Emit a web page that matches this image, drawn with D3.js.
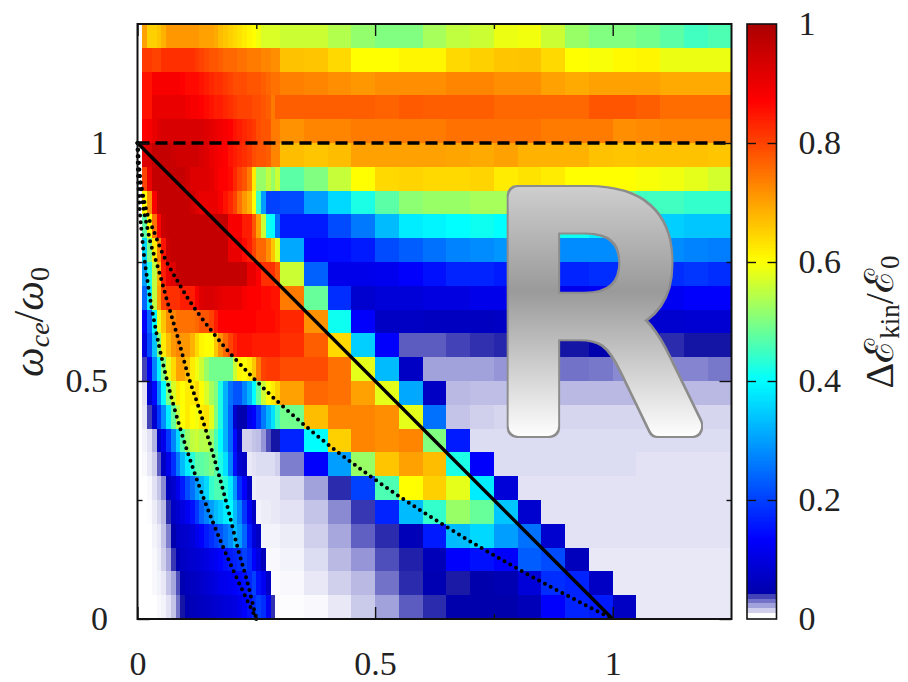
<!DOCTYPE html>
<html>
<head>
<meta charset="utf-8">
<script src="https://cdn.jsdelivr.net/npm/d3@7"></script>
<style>
  html, body { margin: 0; background: #fff; }
  svg { display: block; }
  text { font-family: "Liberation Serif", serif; fill: #222; }
</style>
</head>
<body>
<div id="graph"></div>
<script>
// energy gain in percent, top row (1.2-1.25) first
// x from 0 to 0.3 in steps of 0.01
const fineRows = [
  [0,70,65,65,66,68,71,71,71,71,71,71,71,70,70,70,69,67,66,65,64,63,62,61,60,59,57,57,57,57],
  [0,81,81,80,80,82,82,82,82,82,82,82,81,80,79,78,78,77,76,76,76,75,75,74,74,74,73,73,72,72],
  [0,85,85,88,88,88,88,88,88,87,86,86,86,85,84,83,82,82,81,80,79,79,79,78,78,78,77,76,75,75],
  [0,85,85,90,90,90,90,90,90,90,89,88,88,87,86,85,84,84,83,82,81,80,80,80,79,79,78,77,74,77],
  [0,87,88,90,92,93,93,93,93,93,93,93,93,93,92,91,90,89,88,87,85,84,83,82,81,79,78,78,74,74],
  [0,92,93,96,96,96,96,95,94,94,94,94,94,93,92,90,89,88,87,85,84,83,82,81,79,78,78,77,73,73],
  [0,80,90,96,96,96,96,96,96,96,94,92,92,92,92,91,89,87,87,86,83,80,78,74,62,52,52,55,52,56],
  [0,60,72,88,96,96,96,96,96,96,96,94,92,90,90,90,90,88,85,83,80,75,71,68,60,45,30,20,20,20],
  [0,47,60,75,87,95,96,96,96,96,96,96,96,96,96,96,96,96,96,88,88,88,84,84,78,70,56,41,40,25],
  [0,36,50,62,73,85,95,96,96,96,96,96,96,96,96,96,96,96,96,90,90,90,86,84,80,76,76,72,66,58],
  [0,30,42,55,68,84,90,92,96,96,96,96,96,96,96,96,96,96,96,96,96,96,96,90,90,87,82,82,82,78],
  [0,24,38,55,70,80,82,82,82,84,84,84,88,92,93,93,92,91,90,90,90,90,88,87,87,87,86,86,85,85],
  [0,13,24,40,58,66,72,73,75,75,75,75,76,78,78,80,84,87,87,87,87,87,87,87,87,86,86,86,86,85],
  [0,10,21,34,50,62,67,71,73,71,71,68,64,61,60,60,66,72,76,80,83,85,85,85,84,84,84,84,84,84],
  [0,3.2,12,27,39,50,58,64,70,70,67,62,59,56,52,49,49,49,49,49,56,61,60,62,66,74,80,81,81,81],
  [0,.5,8,14,28,40,50,57,62,60,62,62,64,60,57,53,50,42,32,25,22,22,27,32,40,48,56,60,62,65],
  [0,.4,3.2,8,19,28,38,48,55,60,62,60,59,62,63,58,50,42,32,24,8,4.5,4.5,11,13,19,26,32,37,45],
  [0,.2,.5,1.3,7,11,19,27,36,46,52,55,56,54,54.5,52,46,40,32,24,14,6,.8,.8,1,1.1,1.8,3,4,4],
  [0,.1,.4,.8,2.8,7,11,18,26,33,38,43,47,47,48,50,47,42,37,27,15,8,7,.4,.5,.6,.6,.6,.6,.8],
  [0,0,.1,.5,1,2,6,8,11,16,21,25,30,33,36,44,46,46,43,38,29,18,13,7,.3,.4,.4,.4,.4,.4],
  [0,0,.05,.3,.7,1.2,3.6,7,8,10,12,15,19,24,27,30,33,35,38,40,33,27,19,12,7,.2,.3,.3,.4,.4],
  [0,0,0,.2,.4,1,2.2,4.2,7,7.5,8,9,11,13,16,18,20,22,25,28,33,30,24,16,9,7,.2,.2,.2,.2],
  [0,0,0,.1,.3,.8,1.5,3.4,5,7,7.5,8,8.5,9,10,11,12,13.5,15,16,17,18,20,18,13,10,6,.1,.1,.1],
  [0,0,0,.1,.2,.4,1,1.5,3,5,6,6.5,7,7.5,8.5,9,10,11,11.5,12,13,14,15,17,20,15,12,7,.05,.05],
  [0,0,0,0,.1,.2,.5,1,2.4,4,5,5.5,6,6.5,7,7.5,8,8.5,9,9.5,10,11,13,15,18,20,18,12,3.5,.05]
]

// x from 0.3 to 1.25 in steps of 0.05
const coarseRows = [
  [56,56,54,51.5,50,50,53,55,56,58.5,59,56,52,50,50,49,47,45,46],
  [66.5,66,64,60,60,61,61,64,65,66,66.5,64,60,59.5,60.5,61,58.5,58.5,58.5],
  [73.5,73,72,71,72,72,72,73,73,72,72,70,69,70,70,70,69,69,69],
  [77,77,77,77,76.5,77.5,77,77,77,76,76,76,76,78,78,77,75.5,75.5,75.5],
  [71.5,73,73,74,74,74,74,75,75,75,75,74,74,74,72,72.5,73,73,73],
  [67,66,67,70,70,70,70,69.5,69,70,68,68,68,66.5,66,66.5,66.5,66.5,66],
  [47,50,55.5,60,64,64.5,64,64,64.5,62,63,62,60,60,60,59.5,59,58,56.5],
  [21,30,36,42,47,51,52,52,53,53,53,53,53,50,48,45,45,44,44],
  [16,16,21,26,33,38,39,40,41,40,40,41,41,38,37,36,35,34,34],
  [31,14,14.5,16,21,23,25,27,28,29,29,28,28,28,28,28,28,27,26.5],
  [56,23.5,11,11,11.5,13,15,17,17,16,16,17,17,18,18,18,18,19,18],
  [74,48,18,8,9,9,10,10,11,11,11,11,11,12,12,12,12,13,13],
  [83,71.5,41,13,7,7,6.5,6.5,6.5,7,7,7,7,7.5,8,8,8,8.5,8.5],
  [82,77,64,35,13,2.8,2.8,3.2,3.5,3.7,4,4,4,4.2,4,4,3.6,4,4],
  [79,79,75,58,33,7,1.6,1.6,1.6,1.8,2,2.4,2.4,2.3,2,2.1,2.1,2.1,2.3],
  [70,76,75,70,58,31,7,1.2,1.1,1.1,1.2,1.2,1.2,1.2,1.2,1.2,1.2,1.2,1.2],
  [49,67,73,73,72,58,25,1,.8,.7,.7,.7,.7,.7,.7,.7,.7,.7,.7],
  [17,40,65,73,72,73,50,16,.6,.6,.6,.6,.6,.6,.6,.6,.6,.6,.6],
  [2.2,13,30,52,66,70,67,42,13,.6,.6,.6,.6,.6,.6,.5,.5,.5,.5],
  [.7,1.6,3.6,20,46,60,65,58,38,9,.5,.5,.5,.5,.5,.5,.5,.5,.5],
  [.5,1,2,3.4,17,33,44,52,48,34,8,.5,.5,.5,.5,.5,.5,.5,.5],
  [.3,.8,1.5,2.7,3.6,5.5,16,33,36,30,25,8,.5,.5,.5,.5,.5,.5,.5],
  [.2,.6,1.2,1.8,3,3.8,5.5,13,15,13,23,21,6,.4,.4,.4,.4,.4,.4],
  [.1,.4,.8,1.2,2.4,3.6,5,3.9,4.2,5,9,18,17,7,.4,.4,.4,.4,.4],
  [.05,.1,.4,.9,1.6,2.8,3.6,4.2,4.2,4.2,5.5,13,17,16,7,.4,.4,.4,.4]
]

// dotted curves
const leftCurveX = [0,.0006,.0025,.01,.0225,.04,.0625,.09,.1225,.16,.2025,.25]
const leftCurveY = [1,.95,.9,.8,.7,.6,.5,.4,.3,.2,.1,0]
const midCurveX = [0,.006,.0227,.044,.0614,.086,.107,.128,.156,.174,.191,.212,.23,.25]
const midCurveY = [1,.92,.812,.735,.672,.587,.51,.447,.356,.293,.229,.145,.082,0]
const rightCurveX = [0,.0025,.01,.04,.09,.16,.25,.36,.49,.64,.81,1]
const rightCurveY = [1,.95,.9,.8,.7,.6,.5,.4,.3,.2,.1,0]

const axisTicks = [0, .25, .5, .75, 1]
const majorTicks = [0, .5, 1]
const colorbarTicks = [0, .2, .4, .6, .8, 1]

const colorStops = [0, .04, .04001, .133, .4, .5, .6, .87, 1]
const colorValues = ["#ffffff", "#1414a5", "#0000aa", "#0000ff", "#00ffff", "#80ff80", "#ffff00", "#ff0000", "#aa0000"]

const width = 908
const height = 682
const plotLeft = 137.5
const plotRight = 731.5
const plotTop = 24
const plotBottom = 619
const barLeft = 747
const barRight = 776.5

const x = d3.scaleLinear().domain([0, 1.25]).range([plotLeft, plotRight])
const y = d3.scaleLinear().domain([0, 1.25]).range([plotBottom, plotTop])
const barY = d3.scaleLinear().domain([0, 1]).range([plotBottom, plotTop])
const color = d3.scaleLinear().domain(colorStops).range(colorValues).interpolate(d3.interpolateRgb)

const svg = d3.select("#graph").append("svg")
              .attr("width", width)
              .attr("height", height)
              .attr("viewBox", `0 0 ${width} ${height}`)

const defs = svg.append("defs")

const grad = defs.append("linearGradient")
                 .attr("id", "letter")
                 .attr("gradientUnits", "userSpaceOnUse")
                 .attr("x1", 0).attr("x2", 0)
                 .attr("y1", 185).attr("y2", 438)
grad.selectAll("stop")
    .data([[0, "#cfcfcf"], [.42, "#9a9a9a"], [1, "#ffffff"]])
    .enter().append("stop")
    .attr("offset", d => d[0])
    .attr("stop-color", d => d[1])

// grey rim round the letter
const rim = defs.append("filter")
                .attr("id", "rim")
                .attr("x", "-10%").attr("y", "-10%")
                .attr("width", "120%").attr("height", "120%")
rim.append("feMorphology")
   .attr("in", "SourceAlpha").attr("operator", "dilate").attr("radius", 2).attr("result", "fat")
rim.append("feFlood")
   .attr("flood-color", "#8c8c8c").attr("result", "grey")
rim.append("feComposite")
   .attr("in", "grey").attr("in2", "fat").attr("operator", "in").attr("result", "edge")
const rimMerge = rim.append("feMerge")
rimMerge.append("feMergeNode").attr("in", "edge")
rimMerge.append("feMergeNode").attr("in", "SourceGraphic")

// heatmap
const fineCells = fineRows.flatMap((row, r) => row.map((v, c) => ({
  x0: c * .01, x1: (c + 1) * .01, y0: (24 - r) * .05, y1: (25 - r) * .05, v: v / 100
})))
const coarseCells = coarseRows.flatMap((row, r) => row.map((v, c) => ({
  x0: .3 + c * .05, x1: .3 + (c + 1) * .05, y0: (24 - r) * .05, y1: (25 - r) * .05, v: v / 100
})))

svg.append("g")
   .attr("shape-rendering", "crispEdges")
   .selectAll("rect")
   .data(fineCells.concat(coarseCells))
   .enter()
   .append("rect")
   .attr("x", d => x(d.x0))
   .attr("y", d => y(d.y1))
   .attr("width", d => x(d.x1) - x(d.x0))
   .attr("height", d => y(d.y0) - y(d.y1))
   .attr("fill", d => color(d.v))

// reference lines
const line = d3.line().x(d => x(d[0])).y(d => y(d[1]))
const curve = d3.line().x(d => x(d[0])).y(d => y(d[1])).curve(d3.curveMonotoneX)

svg.append("path")
   .attr("d", line([[0, 1], [1, 0]]))
   .attr("fill", "none").attr("stroke", "#000").attr("stroke-width", 3.4)

svg.append("path")
   .attr("d", line([[0, 1], [1.25, 1]]))
   .attr("fill", "none").attr("stroke", "#000").attr("stroke-width", 3.4)
   .attr("stroke-dasharray", "12 6")

const dotted = [d3.zip(leftCurveX, leftCurveY), d3.zip(midCurveX, midCurveY), d3.zip(rightCurveX, rightCurveY)]
svg.selectAll(".dotted")
   .data(dotted)
   .enter()
   .append("path")
   .classed("dotted", true)
   .attr("d", curve)
   .attr("fill", "none").attr("stroke", "#000").attr("stroke-width", 4)
   .attr("stroke-linecap", "round").attr("stroke-dasharray", "0 6.6")

// the letter, a thick round stroke gives the soft corners
svg.append("text")
   .attr("transform", "scale(.97, 1)")
   .attr("x", 488.5 / .97)
   .attr("y", 426)
   .attr("font-size", 314)
   .style("font-family", "'DejaVu Sans', sans-serif")
   .style("fill", "url(#letter)")
   .style("stroke", "url(#letter)")
   .attr("stroke-width", 20)
   .attr("stroke-linejoin", "round")
   .attr("filter", "url(#rim)")
   .text("R")

// frame and axes
svg.append("rect")
   .attr("x", plotLeft).attr("y", plotTop)
   .attr("width", plotRight - plotLeft).attr("height", plotBottom - plotTop)
   .attr("fill", "none").attr("stroke", "#111").attr("stroke-width", 2)

const tickLength = d => majorTicks.includes(d) ? 12 : 5
const tickLabel = d => majorTicks.includes(d) ? String(d) : ""

const styleAxis = g => {
  g.select(".domain").remove()
  g.selectAll(".tick line").attr("stroke", "#111").attr("stroke-width", 1.4)
  g.selectAll(".tick text").style("font-family", "'Liberation Serif', serif").attr("font-size", 34).attr("fill", "#222")
}

svg.append("g")
   .attr("transform", `translate(0, ${plotBottom})`)
   .call(d3.axisBottom(x).tickValues(axisTicks).tickFormat(tickLabel))
   .call(styleAxis)
   .call(g => g.selectAll(".tick line").attr("y2", d => -tickLength(d)))
   .call(g => g.selectAll(".tick text").attr("y", 55.5).attr("dy", null))

svg.append("g")
   .attr("transform", `translate(0, ${plotTop})`)
   .call(d3.axisTop(x).tickValues(axisTicks).tickFormat(""))
   .call(styleAxis)
   .call(g => g.selectAll(".tick line").attr("y2", d => tickLength(d)))

svg.append("g")
   .attr("transform", `translate(${plotLeft}, 0)`)
   .call(d3.axisLeft(y).tickValues(axisTicks).tickFormat(tickLabel))
   .call(styleAxis)
   .call(g => g.selectAll(".tick line").attr("x2", d => tickLength(d)))
   .call(g => g.selectAll(".tick text").attr("x", -29.5).attr("dy", 10))

svg.append("g")
   .attr("transform", `translate(${plotRight}, 0)`)
   .call(d3.axisRight(y).tickValues(axisTicks).tickFormat(""))
   .call(styleAxis)
   .call(g => g.selectAll(".tick line").attr("x2", d => -tickLength(d)))

// colorbar, the low end comes in a few coarse steps
const barLevels = d3.range(0, 1, 1 / 256)
const barColor = v => color(v < .04 ? Math.floor(v / .008) * .008 : v)

svg.append("g")
   .attr("shape-rendering", "crispEdges")
   .selectAll("rect")
   .data(barLevels)
   .enter()
   .append("rect")
   .attr("x", barLeft)
   .attr("y", d => barY(d + 1 / 256))
   .attr("width", barRight - barLeft)
   .attr("height", barY(0) - barY(1 / 256) + .5)
   .attr("fill", barColor)

svg.append("rect")
   .attr("x", barLeft).attr("y", plotTop)
   .attr("width", barRight - barLeft).attr("height", plotBottom - plotTop)
   .attr("fill", "none").attr("stroke", "#111").attr("stroke-width", 1.6)

const barAxis = svg.append("g")
   .attr("transform", `translate(${barRight}, 0)`)
   .call(d3.axisRight(barY).tickValues(colorbarTicks).tickFormat(d => String(d)))
   .call(styleAxis)
   .call(g => g.selectAll(".tick line").attr("x2", d => (d === 0 || d === 1) ? 0 : -9))
   .call(g => g.selectAll(".tick text").attr("x", 22).attr("dy", 10))

barAxis.selectAll(".tick")
   .append("line")
   .attr("x1", barLeft - barRight)
   .attr("x2", d => barLeft - barRight + ((d === 0 || d === 1) ? 0 : 9))
   .attr("stroke", "#111").attr("stroke-width", 1.4)

// axis titles
const yTitle = svg.append("text")
   .attr("transform", "translate(43, 322) rotate(-90)")
   .attr("text-anchor", "middle")
   .attr("font-size", 42)
   .attr("font-style", "italic")
yTitle.append("tspan").text("ω")
yTitle.append("tspan").attr("font-size", 28).attr("dy", 6).text("ce")
yTitle.append("tspan").attr("font-style", "normal").attr("dy", -6).text("/")
yTitle.append("tspan").text("ω")
yTitle.append("tspan").attr("font-size", 28).attr("font-style", "normal").attr("dy", 6).text("0")

const barTitle = svg.append("text")
   .attr("transform", "translate(893, 322) rotate(-90)")
   .attr("text-anchor", "middle")
   .attr("font-size", 40)
barTitle.append("tspan").text("Δℰ")
barTitle.append("tspan").attr("font-size", 27).attr("dy", 6).text("kin")
barTitle.append("tspan").attr("dy", -6).text("/ℰ")
barTitle.append("tspan").attr("font-size", 27).attr("dy", 6).text("0")
</script>
</body>
</html>
